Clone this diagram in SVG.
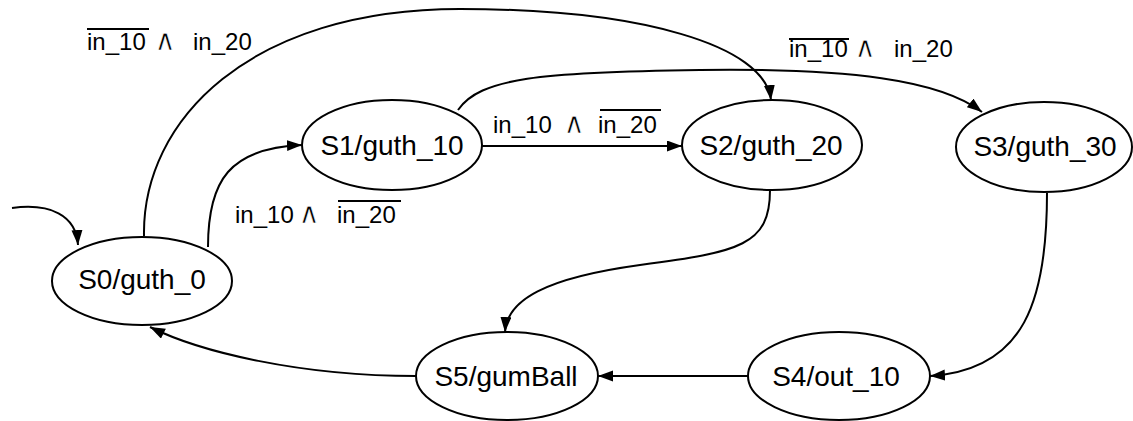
<svg xmlns="http://www.w3.org/2000/svg" width="1133" height="421" viewBox="0 0 1133 421">
  <style>
    .node ellipse { fill: #ffffff; stroke: #000000; stroke-width: 2; }
    .node text { font-family: "Liberation Sans", Arial, sans-serif; font-size: 28px; fill: #000000; text-anchor: middle; }
    .edge { fill: none; stroke: #000000; stroke-width: 2; marker-end: url(#arrow); }
    .lbl { font-family: "Liberation Sans", "DejaVu Sans", Arial, sans-serif; font-size: 24px; fill: #000000; }
    /* logical-and sign: thinned with a white outline so it matches the label weight */
    .op { font-family: "DejaVu Sans", sans-serif; font-size: 29px; text-anchor: middle; stroke: #ffffff; stroke-width: 0.7px; }
    .bar { stroke: #000000; stroke-width: 2; }
  </style>
  <defs>
    <marker id="arrow" markerUnits="userSpaceOnUse" markerWidth="16" markerHeight="12" refX="15" refY="5.5" orient="auto">
      <path d="M0,0 L15,5.5 L0,11 z" fill="#000000"/>
    </marker>
  </defs>
  <rect width="1133" height="421" fill="#ffffff"/>

  <!-- transitions -->
  <g id="connectors">
    <path class="edge" d="M12,208 C50,203 76,215 78,245"/>
    <path class="edge" d="M208,247 C208,180 230,148 302,145"/>
    <path class="edge" d="M144,236 C142,120 250,9 460,9 C640,9 765,45 771,100"/>
    <path class="edge" d="M482,146 L682,146"/>
    <path class="edge" d="M458,110 C480,78 540,72 700,70 C850,68 940,80 982,112"/>
    <path class="edge" d="M770,190 C770,245 740,252 640,265 C545,278 507,300 505,332"/>
    <path class="edge" d="M1047,193 C1047,300 1025,370 930,376"/>
    <path class="edge" d="M748,376 L598,376"/>
    <path class="edge" d="M416,376 C300,376 200,352 150,327"/>
  </g>

  <!-- transition conditions -->
  <g id="labels">
    <g id="lbl-s0-s1">
      <text class="lbl" x="235" y="223">in_10</text>
      <text class="lbl op" x="309" y="223">∧</text>
      <text class="lbl" x="337" y="223">in_20</text>
      <line class="bar" x1="338" y1="201" x2="401" y2="201"/>
    </g>
    <g id="lbl-s1-s2">
      <text class="lbl" x="493" y="133">in_10</text>
      <text class="lbl op" x="574" y="133">∧</text>
      <text class="lbl" x="598" y="133">in_20</text>
      <line class="bar" x1="600" y1="110" x2="661" y2="110"/>
    </g>
    <g id="lbl-s0-s2">
      <text class="lbl" x="87" y="50">in_10</text>
      <text class="lbl op" x="165" y="50">∧</text>
      <text class="lbl" x="193" y="50">in_20</text>
      <line class="bar" x1="87" y1="29" x2="149" y2="29"/>
    </g>
    <g id="lbl-s1-s3">
      <text class="lbl" x="789" y="57">in_10</text>
      <text class="lbl op" x="865" y="57">∧</text>
      <text class="lbl" x="894" y="57">in_20</text>
      <line class="bar" x1="789" y1="39" x2="849" y2="39"/>
    </g>
  </g>

  <!-- states -->
  <g id="S0" class="node">
    <ellipse cx="142" cy="281" rx="90" ry="44"/>
    <text x="142" y="289">S0/guth_0</text>
  </g>
  <g id="S1" class="node">
    <ellipse cx="392" cy="145" rx="90" ry="45"/>
    <text x="392" y="155">S1/guth_10</text>
  </g>
  <g id="S2" class="node">
    <ellipse cx="772" cy="145" rx="90" ry="45"/>
    <text x="771" y="155">S2/guth_20</text>
  </g>
  <g id="S3" class="node">
    <ellipse cx="1044" cy="147" rx="88" ry="45"/>
    <text x="1045" y="156">S3/guth_30</text>
  </g>
  <g id="S4" class="node">
    <ellipse cx="839" cy="376" rx="91" ry="44"/>
    <text x="836" y="386">S4/out_10</text>
  </g>
  <g id="S5" class="node">
    <ellipse cx="507" cy="376" rx="91" ry="44"/>
    <text x="506" y="386">S5/gumBall</text>
  </g>
</svg>
